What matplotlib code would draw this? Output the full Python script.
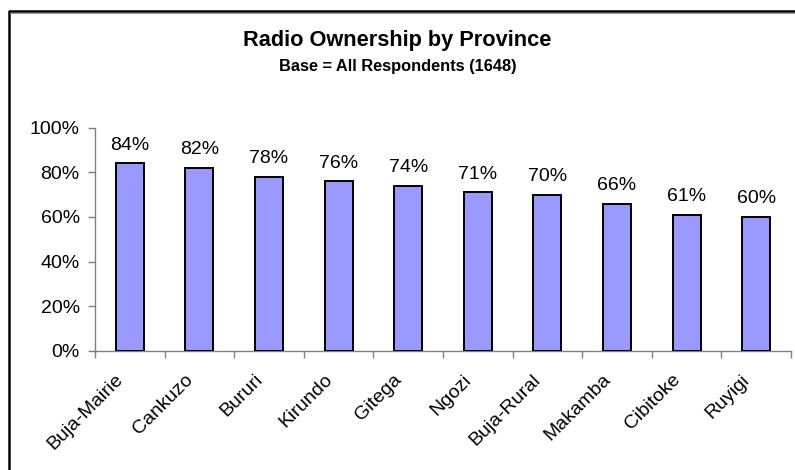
import numpy as np
import matplotlib
matplotlib.use('Agg')
import matplotlib.pyplot as plt
from matplotlib.lines import Line2D
from matplotlib.ticker import FixedLocator, PercentFormatter
from matplotlib.transforms import ScaledTranslation

plt.rcParams['font.family'] = ['Liberation Sans', 'DejaVu Sans']

provinces = ['Buja-Mairie', 'Cankuzo', 'Bururi', 'Kirundo', 'Gitega',
             'Ngozi', 'Buja-Rural', 'Makamba', 'Cibitoke', 'Ruyigi']
ownership = [84, 82, 78, 76, 74, 71, 70, 66, 61, 60]

title = 'Radio Ownership by Province'
subtitle = 'Base = All Respondents (1648)'

fig = plt.figure(figsize=(7.95, 4.70), dpi=100)
ax = fig.add_axes([0.1195, 0.2538, 0.8755, 0.4745])

x = np.arange(len(provinces))
bars = ax.bar(x, ownership, width=0.4, color='#9999FF', edgecolor='black',
              linewidth=1.4, zorder=3)

for rect, val in zip(bars, ownership):
    ax.annotate(f'{val}%', (rect.get_x() + rect.get_width() / 2, val),
                xytext=(0, 7), textcoords='offset points',
                ha='center', va='bottom', fontsize=14)

ax.set_xlim(-0.5, len(provinces) - 0.5)
ax.set_ylim(0, 100)
ax.set_yticks(np.arange(0, 101, 20))
ax.yaxis.set_major_formatter(PercentFormatter(decimals=0))

# category names, slanted and set a little left of each bar
ax.set_xticks(x)
ax.tick_params(axis='x', which='major', length=0, labelbottom=False)
lab_trans = ax.get_xaxis_transform() + ScaledTranslation(-6.5 / 72, -19 / 72,
                                                         fig.dpi_scale_trans)
for xi, name in zip(x, provinces):
    ax.text(xi, 0, name, transform=lab_trans, rotation=45, ha='right',
            va='center', rotation_mode='anchor', fontsize=14)

ax.xaxis.set_minor_locator(FixedLocator(np.arange(-0.5, len(provinces), 1)))
ax.tick_params(axis='x', which='minor', length=5, color='#808080', width=1)
ax.tick_params(axis='y', length=5, color='#808080', width=1, labelsize=14, pad=6)

for side in ['top', 'right']:
    ax.spines[side].set_visible(False)
for side in ['left', 'bottom']:
    ax.spines[side].set_color('#808080')
    ax.spines[side].set_linewidth(1)

fig.text(0.5, 0.9128, title, ha='center', va='center', fontsize=15.7,
         fontweight='bold')
fig.text(0.5, 0.8585, subtitle, ha='center', va='center', fontsize=11.8,
         fontweight='bold')

# frame around the chart (top and left edges only)
fx = 8.5 / 795
fy = 1 - 10.5 / 470
fig.add_artist(Line2D([fx, fx, 1], [0, fy, fy], transform=fig.transFigure,
                      color='black', linewidth=1.8))
fig.add_artist(Line2D([fx + 1.5 / 795, 1], [fy - 2 / 470, fy - 2 / 470],
                      transform=fig.transFigure, color='#999999', linewidth=0.8))

fig.savefig('out.png', dpi=100)
